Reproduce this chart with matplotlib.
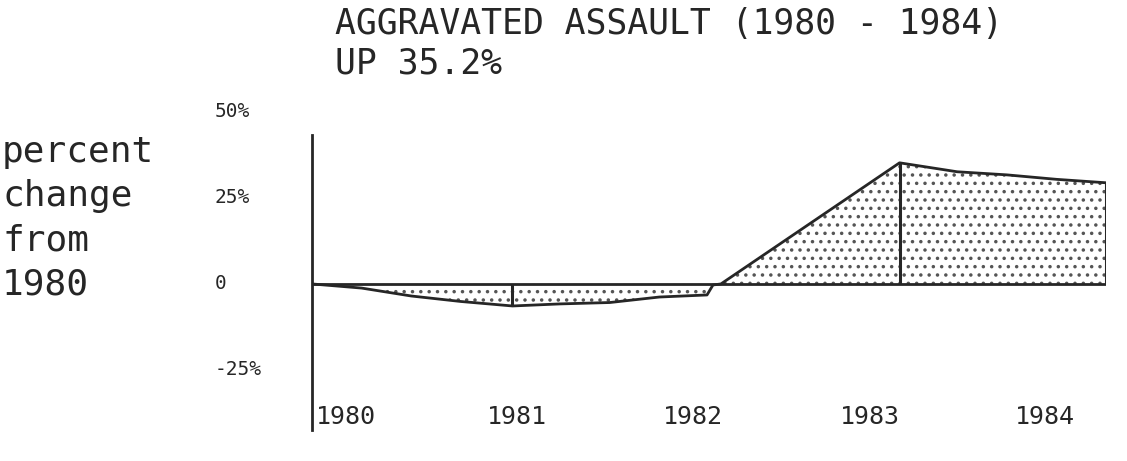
import matplotlib.pyplot as plt
from matplotlib.transforms import blended_transform_factory

# readings: fractional year, percent change from 1980
years = [1980.0, 1980.25, 1980.5, 1980.75, 1981.01, 1981.25, 1981.5, 1981.75,
         1981.99, 1982.02, 1982.06, 1982.96, 1983.25, 1983.5, 1983.75, 1984.0]
change = [0, -1.2, -3.5, -5.1, -6.4, -5.8, -5.4, -3.8,
          -3.2, -0.3, 0, 35.2, 32.6, 31.7, 30.4, 29.4]
marked = [4, 11, 15]   # points with a drop line to zero

ytick_vals = [50, 25, 0, -25]
ytick_labels = ['50%', '25%', '0', '-25%']
xtick_labels = ['1980', '1981', '1982', '1983', '1984']
xtick_pos = [1980.17, 1981.03, 1981.92, 1982.81, 1983.69]

plt.rcParams['font.family'] = 'DejaVu Sans Mono'
plt.rcParams['hatch.linewidth'] = 1.3
ink = '#262626'

fig = plt.figure(figsize=(11.27, 4.61), dpi=100)
ax = fig.add_axes([312/1127, 1 - 438.8/461, (1106-312)/1127, (438.8-105)/461])
ax.set_xlim(1980, 1984)
ax.set_ylim(-45, 52)

ax.fill_between(years, change, 0, facecolor='white', edgecolor='#555555',
                hatch='..', linewidth=0)
ax.plot(years, change, color=ink, linewidth=2)
ax.plot([years[0], years[-1]], [0, 0], color=ink, linewidth=2)
ax.vlines([years[i] for i in marked], 0, [change[i] for i in marked],
          color=ink, linewidth=2.2)

for s in ['top', 'right', 'bottom']:
    ax.spines[s].set_visible(False)
ax.spines['left'].set_bounds(-42.4, 43.3)
ax.spines['left'].set_linewidth(2)
ax.spines['left'].set_color(ink)
ax.set_yticks([])
ax.set_xticks(xtick_pos)
ax.set_xticklabels(xtick_labels, fontsize=18, color=ink)
ax.tick_params(axis='x', length=0, pad=-24)

trans = blended_transform_factory(fig.transFigure, ax.transData)
for v, lab in zip(ytick_vals, ytick_labels):
    ax.text(215/1127, v, lab, transform=trans,
            ha='left', va='center', fontsize=14, color=ink)

fig.text(335/1127, 1 - 24/461, 'AGGRAVATED ASSAULT (1980 - 1984)',
         fontsize=25, color=ink, va='center', ha='left')
fig.text(335/1127, 1 - 63/461, 'UP 35.2%', fontsize=25, color=ink,
         va='center', ha='left')
for i, line in enumerate(['percent', 'change', 'from', '1980']):
    fig.text(2/1127, 1 - (152 + 44*i)/461, line, fontsize=26, color=ink,
             va='center', ha='left')

fig.savefig('out.png', dpi=100)
